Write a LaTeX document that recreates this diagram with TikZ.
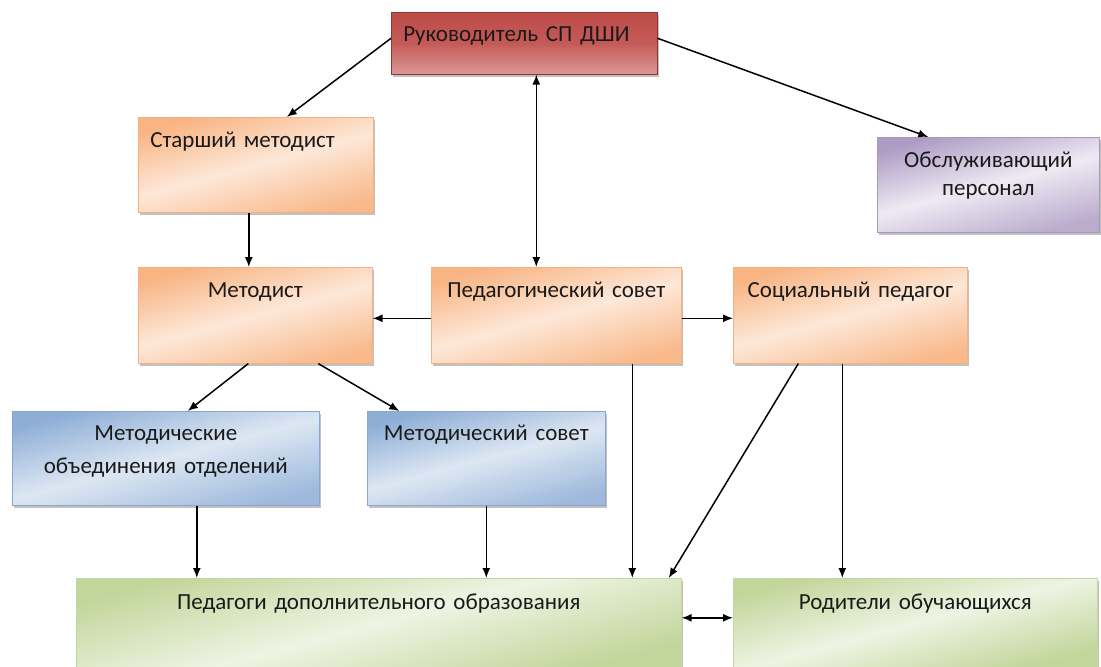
\documentclass[tikz,border=0pt]{standalone}
\usepackage{fontspec}
\setmainfont[WordSpace=0.8]{Carlito}
\usetikzlibrary{arrows.meta,shadows}
\definecolor{redtop}{HTML}{BE4B48}
\definecolor{redbot}{HTML}{DA9896}
\definecolor{redline}{HTML}{8C3836}
\definecolor{orgedge}{HTML}{F8B483}
\definecolor{orglight}{HTML}{FDE8D8}
\definecolor{orgline}{HTML}{F4B183}
\definecolor{bluedge}{HTML}{8EAED6}
\definecolor{blulight}{HTML}{DDE7F3}
\definecolor{bluline}{HTML}{8AA6CC}
\definecolor{purpedge}{HTML}{AE9CC5}
\definecolor{purplight}{HTML}{EEEAF3}
\definecolor{purpline}{HTML}{A898C0}
\definecolor{grnedge}{HTML}{C2D59A}
\definecolor{grnlight}{HTML}{EEF4E3}
\definecolor{grnline}{HTML}{C5D7A0}
\definecolor{txt}{HTML}{1A1A1A}
\tikzset{
  bx/.style={anchor=north west, inner sep=0pt, line width=0.6pt, text=txt,
    font=\fontsize{23}{30}\selectfont,
    drop shadow={shadow xshift=2pt, shadow yshift=-3pt, opacity=0.4, fill=black!60}},
  redbox/.style={bx, draw=redline, top color=redtop, bottom color=redbot, middle color=redtop!80!redbot},
  orgbox/.style={bx, draw=orgline, top color=orgedge, bottom color=orgedge!90!orglight, middle color=orglight, shading angle=15},
  blubox/.style={bx, draw=bluline, top color=bluedge, bottom color=bluedge!80!blulight, middle color=blulight, shading angle=15},
  purpbox/.style={bx, draw=purpline, top color=purpedge, bottom color=purpedge!80!purplight, middle color=purplight, shading angle=15},
  grnbox/.style={bx, draw=grnline, top color=grnedge, bottom color=grnedge, middle color=grnlight, shading angle=15},
  conn/.style={-{Latex[length=10pt,width=8pt]}, line width=1.5pt},
  conntwo/.style={{Latex[length=10pt,width=8pt]}-{Latex[length=10pt,width=8pt]}, line width=1.5pt}
}
\begin{document}
\begin{tikzpicture}[x=1pt,y=1pt]
\fill[white] (0,0) rectangle (1101,-667);
\useasboundingbox (0,0) rectangle (1101,-667);

\node[redbox, minimum width=266pt, text width=266pt, align=left, text height=29pt, text depth=33pt] (ruk) at (391,-12) {\hspace*{12pt}Руководитель СП ДШИ};
\node[orgbox, minimum width=235pt, text width=235pt, align=left, text height=30pt, text depth=65pt] (star) at (138,-117) {\hspace*{12pt}Старший методист};
\node[purpbox, minimum width=222pt, text width=222pt, align=center, text height=30pt, text depth=65pt, font=\fontsize{23}{28}\selectfont] (obs) at (877,-137) {Обслуживающий\\персонал};
\node[orgbox, minimum width=234pt, text width=234pt, align=center, text height=30pt, text depth=66pt] (met) at (138,-267) {Методист};
\node[orgbox, minimum width=250pt, text width=250pt, align=center, text height=30pt, text depth=66pt] (ped) at (431,-267) {Педагогический совет};
\node[orgbox, minimum width=234pt, text width=234pt, align=center, text height=30pt, text depth=66pt] (soc) at (733,-267) {Социальный педагог};
\node[blubox, minimum width=307pt, text width=307pt, align=center, text height=29pt, text depth=65pt, font=\fontsize{23}{33}\selectfont] (mo) at (12,-411) {Методические\\объединения отделений};
\node[blubox, minimum width=238pt, text width=238pt, align=center, text height=29pt, text depth=65pt] (ms) at (367,-411) {Методический совет};
\node[grnbox, minimum width=605pt, text width=605pt, align=center, text height=31pt, text depth=58pt] (pdo) at (76,-578) {Педагоги дополнительного образования};
\node[grnbox, minimum width=364pt, text width=364pt, align=center, text height=31pt, text depth=58pt] (rod) at (733,-578) {Родители обучающихся};

\draw[conn] ([yshift=5pt]ruk.west) -- ([xshift=31pt]star.north);
\draw[conn] ([yshift=5pt]ruk.east) -- ([xshift=-60pt]obs.north);
\draw[conntwo] ([xshift=-20pt]ped.north) -- ([xshift=-20pt]ped.north |- ruk.south);
\draw[conn] ([xshift=-7pt]star.south) -- ([xshift=-7pt]star.south |- met.north);
\draw[conn] ([yshift=-3pt]ped.west) -- ([yshift=-3pt]met.east);
\draw[conn] ([yshift=-3pt]ped.east) -- ([yshift=-3pt]soc.west);
\draw[conn] ([xshift=-7pt]met.south) -- ([xshift=22pt]mo.north);
\draw[conn] ([xshift=63pt]met.south) -- ([xshift=-87pt]ms.north);
\draw[conn] ([xshift=31pt]mo.south) -- ([xshift=31pt]mo.south |- pdo.north);
\draw[conn] (ms.south) -- (ms.south |- pdo.north);
\draw[conn] ([xshift=76pt]ped.south) -- ([xshift=76pt]ped.south |- pdo.north);
\draw[conn] ([xshift=-52pt]soc.south) -- ([xshift=290pt]pdo.north);
\draw[conn] ([xshift=-8pt]soc.south) -- ([xshift=-8pt]soc.south |- rod.north);
\draw[conntwo] ([yshift=5pt]pdo.east) -- ([yshift=5pt]pdo.east -| rod.west);
\end{tikzpicture}
\end{document}
